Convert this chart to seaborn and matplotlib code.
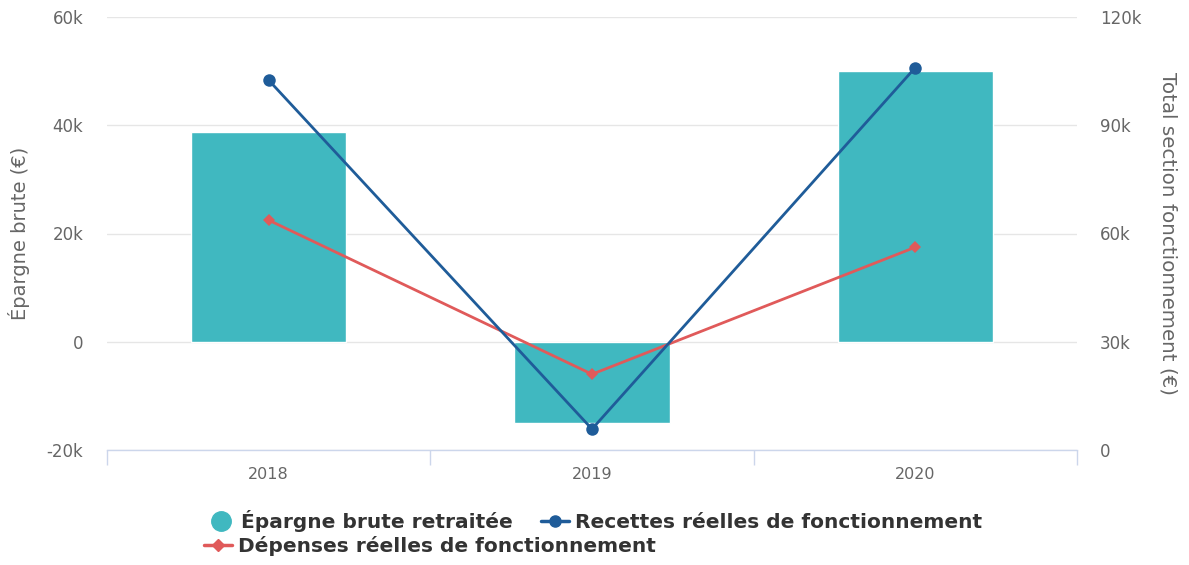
import numpy as np
import pandas as pd
import matplotlib
matplotlib.use("Agg")
import matplotlib.pyplot as plt
import seaborn as sns
from matplotlib.ticker import FuncFormatter, FixedLocator
from matplotlib.lines import Line2D

years = ["2018", "2019", "2020"]
epargne = [38700, -15000, 50000]
recettes = [102500, 5800, 106000]
depenses = [63700, 21000, 56200]

bar_color = "#40b8c0"
rec_color = "#1f5c99"
dep_color = "#e05a5a"
grid_color = "#e6e6e6"
axis_color = "#ccd6eb"
text_color = "#666666"


def kfmt(v, pos):
    if v == 0:
        return "0"
    return f"{int(v / 1000)}k"


def main():
    sns.set_theme(style="white")
    plt.rcParams["font.family"] = ["DejaVu Sans"]

    df = pd.DataFrame({
        "year": years,
        "pos": np.arange(len(years)),
        "epargne": epargne,
        "recettes": recettes,
        "depenses": depenses,
    })

    fig = plt.figure(figsize=(11.89, 5.65), dpi=100)
    ax = fig.add_axes([107 / 1189, 1 - 450 / 565, 970 / 1189, 433 / 565])

    sns.barplot(data=df, x="pos", y="epargne", color=bar_color, width=0.48,
                saturation=1, ax=ax, native_scale=True)
    ax.set_xlim(-0.5, 2.5)
    ax.set_ylim(-20000, 60000)
    ax.yaxis.set_major_locator(FixedLocator([-20000, 0, 20000, 40000, 60000]))
    ax.yaxis.set_major_formatter(FuncFormatter(kfmt))
    ax.set_xticks(df["pos"])
    ax.set_xticklabels(years)
    ax.set_xticks([-0.5, 0.5, 1.5, 2.5], minor=True)
    ax.tick_params(axis="x", which="major", length=0, pad=12, labelsize=11.5,
                   labelcolor=text_color)
    ax.tick_params(axis="x", which="minor", bottom=True, length=11, width=1,
                   color=axis_color)
    ax.tick_params(axis="y", length=0, pad=17, labelsize=12, labelcolor=text_color)
    ax.grid(axis="y", color=grid_color, linewidth=1)
    ax.set_axisbelow(True)
    for s in ["top", "left", "right"]:
        ax.spines[s].set_visible(False)
    ax.spines["bottom"].set_color(axis_color)
    ax.spines["bottom"].set_linewidth(1)
    ax.set_xlabel("")
    ax.set_ylabel("Épargne brute (€)", fontsize=14, color=text_color, labelpad=12)

    ax2 = ax.twinx()
    sns.lineplot(data=df, x="pos", y="recettes", color=rec_color, linewidth=2,
                 marker="o", markersize=9, markeredgewidth=0, ax=ax2, zorder=4)
    sns.lineplot(data=df, x="pos", y="depenses", color=dep_color, linewidth=2,
                 marker="D", markersize=6.5, markeredgewidth=0, ax=ax2, zorder=3)
    ax2.set_ylim(0, 120000)
    ax2.yaxis.set_major_locator(FixedLocator([0, 30000, 60000, 90000, 120000]))
    ax2.yaxis.set_major_formatter(FuncFormatter(kfmt))
    ax2.tick_params(axis="y", length=0, pad=16.5, labelsize=12, labelcolor=text_color)
    for s in ["top", "left", "right", "bottom"]:
        ax2.spines[s].set_visible(False)
    ax2.set_xlabel("")
    ax2.set_ylabel("Total section fonctionnement (€)", fontsize=14.3, color=text_color,
                   rotation=270, labelpad=26)
    ax2.set_xlim(-0.5, 2.5)

    prop = {"weight": "bold", "size": 14.5, "family": ["DejaVu Sans"]}
    row1 = [
        Line2D([], [], linestyle="none", marker="o", markersize=14,
               color=bar_color),
        Line2D([], [], color=rec_color, linewidth=2.5, marker="o", markersize=8),
    ]
    leg1 = fig.legend(row1, ["Épargne brute retraitée",
                             "Recettes réelles de fonctionnement"],
                      loc="upper center", ncol=2, bbox_to_anchor=(0.5, 1 - 500 / 565),
                      frameon=False, prop=prop, borderpad=0,
                      handlelength=1.4, handletextpad=0.3, columnspacing=1.4)
    row2 = [Line2D([], [], color=dep_color, linewidth=2.5, marker="D", markersize=6)]
    leg2 = fig.legend(row2, ["Dépenses réelles de fonctionnement"],
                      loc="upper left", bbox_to_anchor=(194 / 1189, 1 - 526 / 565),
                      frameon=False, prop=prop, borderpad=0,
                      handlelength=1.4, handletextpad=0.3)
    for leg in (leg1, leg2):
        for t in leg.get_texts():
            t.set_color("#333333")

    fig.savefig("out.png", dpi=100)


if __name__ == "__main__":
    main()
